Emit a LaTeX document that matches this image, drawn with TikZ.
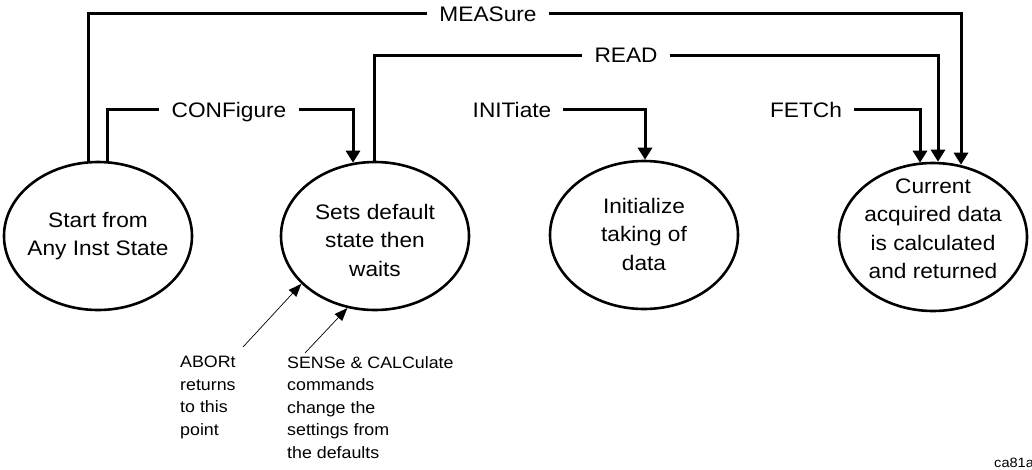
\documentclass[tikz,border=0pt]{standalone}
\usepackage{fontspec}
\setmainfont{Liberation Sans}[FakeStretch=1.08]
\usetikzlibrary{shapes.geometric,arrows.meta,calc}
\begin{document}
\begin{tikzpicture}[x=1pt,y=-1pt,
  state/.style={draw, ellipse, line width=2.6pt, minimum width=188pt, minimum height=148pt, inner sep=0pt},
  stxt/.style={align=center, font=\fontsize{21}{28.5}\selectfont, inner sep=0pt},
  cmd/.style={font=\fontsize{21}{25}\selectfont, text height=15pt, text depth=0pt, inner ysep=0pt, inner xsep=12pt},
  conn/.style={line width=3pt},
  arr/.style={conn, -{Triangle[length=12pt,width=14pt]}},
  thinarr/.style={line width=0.7pt, -{Triangle[length=13pt,width=10pt]}},
  note/.style={align=left, font=\fontsize{16.5}{22.5}\selectfont, anchor=north west, inner sep=0pt}
]
\useasboundingbox (0,0) rectangle (1032,469);

% states
\node[state] (e1) at (98,236) {};
\node[state] (e2) at (375,236) {};
\node[state] (e3) at (644,235) {};
\node[state] (e4) at (933,237) {};

\node[stxt] (t1) at (98,236) {Start from\\Any Inst State};
\node[stxt] (t2) at (375,240) {Sets default\\state then\\waits};
\node[stxt] (t3) at (644,234) {Initialize\\taking of\\data};
\node[stxt] (t4) at (933,229) {Current\\acquired data\\is calculated\\and returned};

% command labels
\node[cmd] (meas) at (488,13.5) {MEASure};
\node[cmd] (read) at (626,55) {READ};
\node[cmd] (conf) at (229,109.5) {CONFigure};
\node[cmd] (init) at (512,109.5) {INITiate};
\node[cmd] (fetch) at (806,109.5) {FETCh};

% connector end points on the ellipses
\coordinate (m1) at ($(e1.north)+(-10,1)$);
\coordinate (c1) at ($(e1.north)+(9,1)$);
\coordinate (c2) at ($(e2.north)+(-22,2)$);
\coordinate (r1) at ($(e2.north)+(-1,1)$);
\coordinate (i2) at ($(e3.north)+(1,0)$);
\coordinate (f2) at ($(e4.north)+(-13,1)$);
\coordinate (r2) at ($(e4.north)+(5,0)$);
\coordinate (m2) at ($(e4.north)+(28,3)$);

% connectors
\draw[conn] (m1) |- (meas.west);
\draw[arr] (meas.east) -| (m2);
\draw[conn] (c1) |- (conf.west);
\draw[arr] (conf.east) -| (c2);
\draw[conn] (r1) |- (read.west);
\draw[arr] (read.east) -| (r2);
\draw[arr] (init.east) -| (i2);
\draw[arr] (fetch.east) -| (f2);

% notes
\node[note] (abort) at (180,356) {ABORt\\returns\\to this\\point};
\node[note] (sense) at (287,356) {SENSe \& CALCulate\\commands\\change the\\settings from\\the defaults};
\coordinate (ab) at (243,347);
\coordinate (se) at (305,353);
\draw[thinarr] (ab) -- (e2.213);
\draw[thinarr] (se) -- (e2.249);

\node[anchor=base west, inner sep=0pt, font=\fontsize{13.5}{15}\selectfont] (code) at (994,467) {ca81a};
\end{tikzpicture}
\end{document}
